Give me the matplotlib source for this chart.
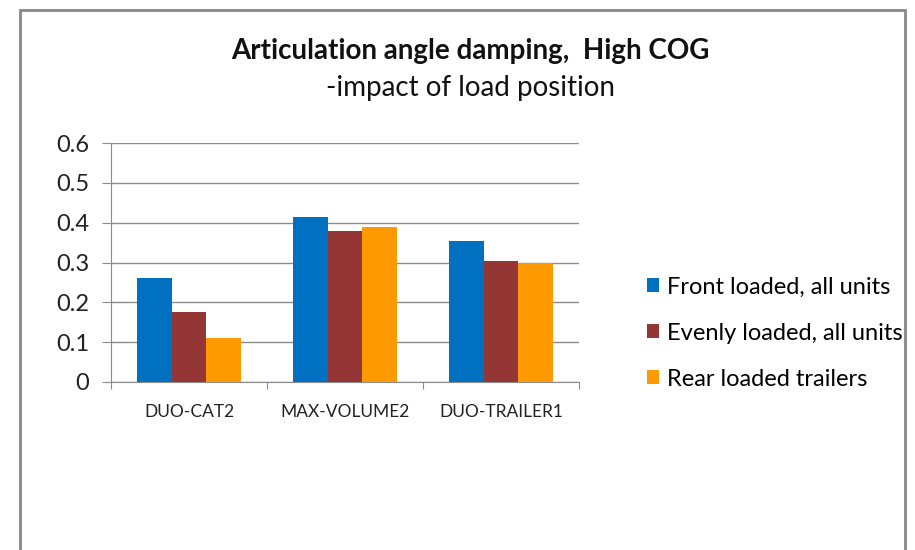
import numpy as np
import matplotlib
matplotlib.use("Agg")
import matplotlib.pyplot as plt
from matplotlib.patches import Rectangle

categories = ["DUO-CAT2", "MAX-VOLUME2", "DUO-TRAILER1"]
series_names = ["Front loaded, all units", "Evenly loaded, all units", "Rear loaded trailers"]
front = [0.26, 0.415, 0.355]
evenly = [0.175, 0.38, 0.305]
rear = [0.11, 0.39, 0.30]
colors = ["#0070C0", "#943634", "#FF9900"]
yticks = [0, 0.1, 0.2, 0.3, 0.4, 0.5, 0.6]
ytick_labels = ["0", "0.1", "0.2", "0.3", "0.4", "0.5", "0.6"]

plt.rcParams["font.family"] = ["Lato", "DejaVu Sans"]

fig = plt.figure(figsize=(9.15, 5.5), dpi=100)
fig.patch.set_facecolor("white")

# chart frame
fig.patches.append(Rectangle((20 / 915, -0.1), 885 / 915, 1.1 - 10 / 550,
                             transform=fig.transFigure, fill=False,
                             edgecolor="#878787", linewidth=2))

ax = fig.add_axes([111 / 915, 1 - 382 / 550, 468 / 915, 239 / 550])

x = np.arange(len(categories))
w = 1 / 4.5
for i, (vals, name) in enumerate(zip([front, evenly, rear], series_names)):
    ax.bar(x + (i - 1) * w, vals, width=w, color=colors[i], label=name, zorder=3)

ax.set_xlim(-0.5, 2.5)
ax.set_ylim(0, 0.6)
ax.set_yticks(yticks)
ax.set_yticklabels(ytick_labels, fontsize=17, color="#222222")
ax.yaxis.grid(True, color="#8c8c8c", linewidth=1, zorder=0)
ax.tick_params(axis="y", length=6.5, color="#8c8c8c", pad=9)

# x ticks on category boundaries, labels centred
ax.set_xticks([-0.5, 0.5, 1.5, 2.5])
ax.set_xticklabels([])
ax.set_xticks(x, minor=True)
ax.set_xticklabels(categories, minor=True, fontsize=12.5, color="#222222")
ax.tick_params(axis="x", which="major", length=5, color="#8c8c8c")
ax.tick_params(axis="x", which="minor", length=0, pad=16)

for s in ["top", "right"]:
    ax.spines[s].set_visible(False)
for s in ["left", "bottom"]:
    ax.spines[s].set_color("#8c8c8c")

fig.text(470 / 915, 1 - 51 / 550, "Articulation angle damping,  High COG",
         ha="center", va="center", fontsize=20, fontweight="bold", color="#111111")
fig.text(470 / 915, 1 - 88 / 550, "-impact of load position",
         ha="center", va="center", fontsize=20, color="#111111")

ax.legend(loc="center left", bbox_to_anchor=(626 / 915, 1 - 333 / 550),
          bbox_transform=fig.transFigure, frameon=False, fontsize=17,
          handlelength=0.5, handleheight=0.5, handletextpad=0.35,
          labelspacing=1.06)

fig.savefig("out.png", dpi=100)
